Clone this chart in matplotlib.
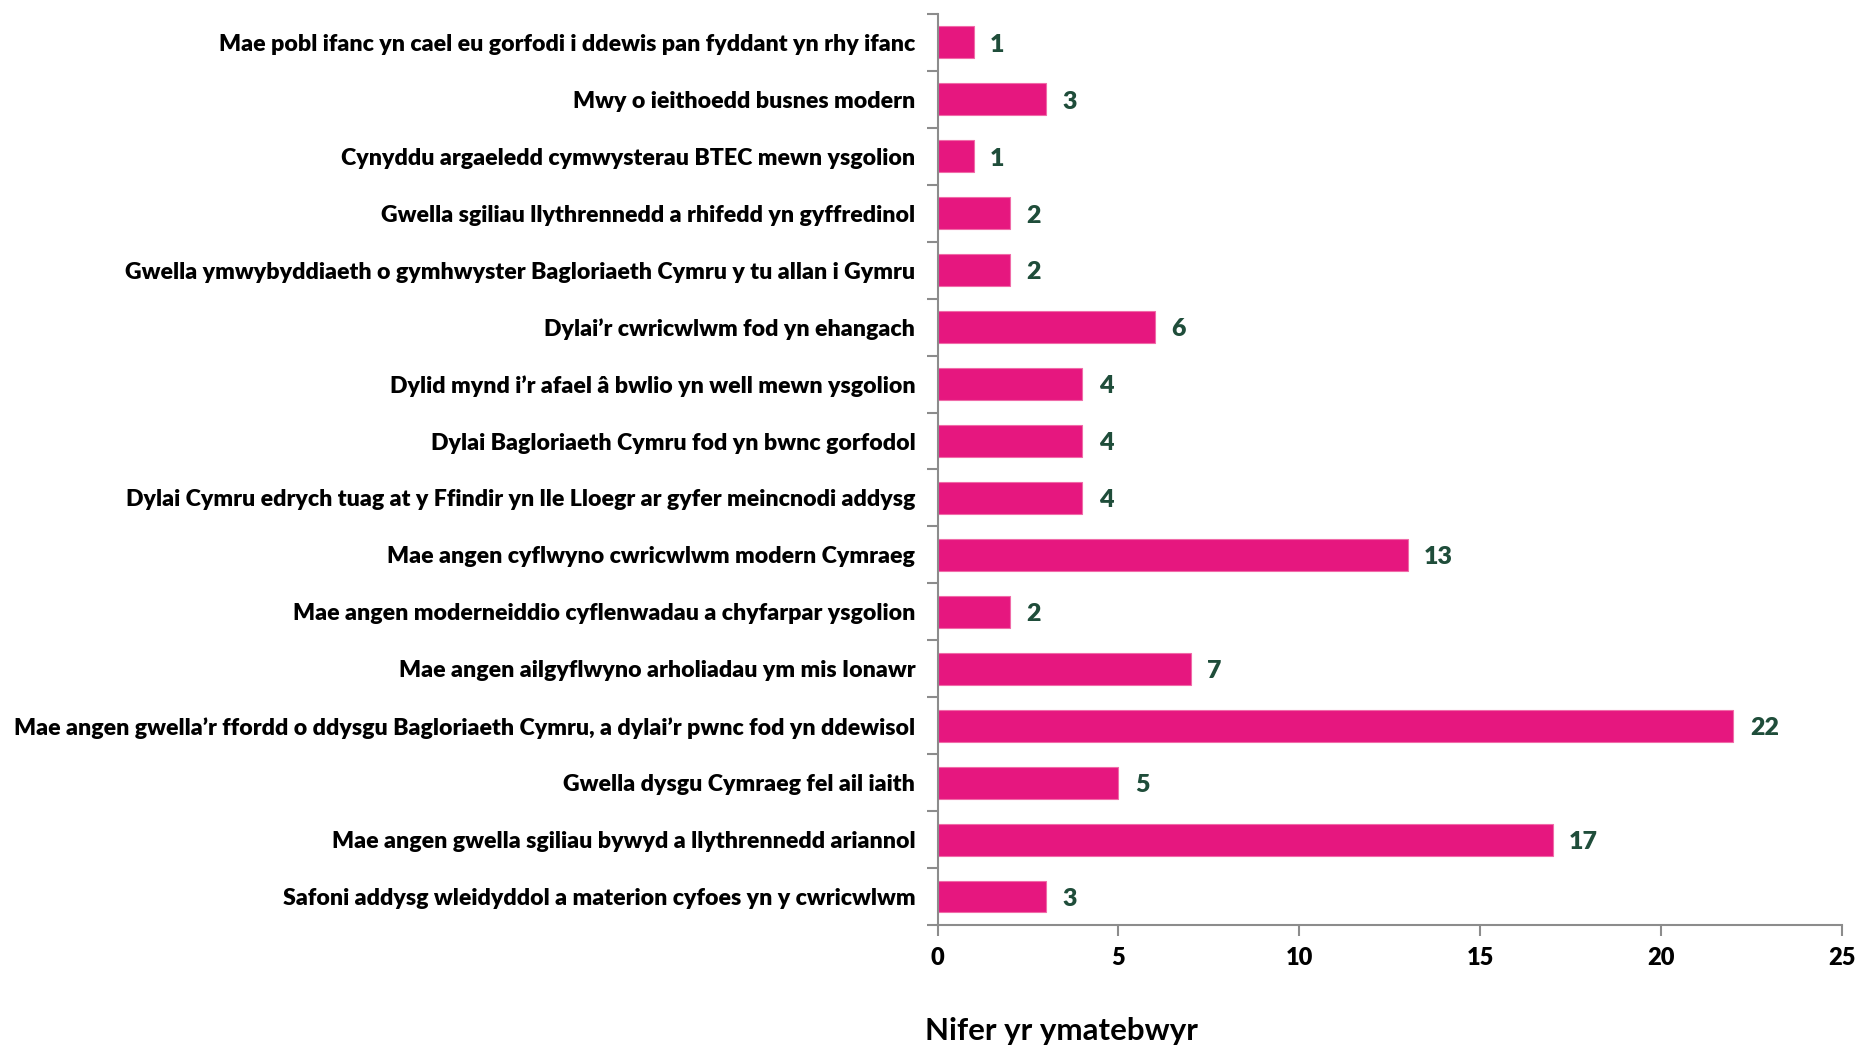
import matplotlib
matplotlib.use("Agg")
import matplotlib.pyplot as plt

categories = [
    "Mae pobl ifanc yn cael eu gorfodi i ddewis pan fyddant yn rhy ifanc",
    "Mwy o ieithoedd busnes modern",
    "Cynyddu argaeledd cymwysterau BTEC mewn ysgolion",
    "Gwella sgiliau llythrennedd a rhifedd yn gyffredinol",
    "Gwella ymwybyddiaeth o gymhwyster Bagloriaeth Cymru y tu allan i Gymru",
    "Dylai\u2019r cwricwlwm fod yn ehangach",
    "Dylid mynd i\u2019r afael \u00e2 bwlio yn well mewn ysgolion",
    "Dylai Bagloriaeth Cymru fod yn bwnc gorfodol",
    "Dylai Cymru edrych tuag at y Ffindir yn lle Lloegr ar gyfer meincnodi addysg",
    "Mae angen cyflwyno cwricwlwm modern Cymraeg",
    "Mae angen moderneiddio cyflenwadau a chyfarpar ysgolion",
    "Mae angen ailgyflwyno arholiadau ym mis Ionawr",
    "Mae angen gwella\u2019r ffordd o ddysgu Bagloriaeth Cymru, a dylai\u2019r pwnc fod yn ddewisol",
    "Gwella dysgu Cymraeg fel ail iaith",
    "Mae angen gwella sgiliau bywyd a llythrennedd ariannol",
    "Safoni addysg wleidyddol a materion cyfoes yn y cwricwlwm",
]
values = [1, 3, 1, 2, 2, 6, 4, 4, 4, 13, 2, 7, 22, 5, 17, 3]
xticks = [0, 5, 10, 15, 20, 25]
xlabel = "Nifer yr ymatebwyr"

plt.rcParams['font.family'] = ['Lato', 'DejaVu Sans']

fig = plt.figure(figsize=(18.61, 10.49), dpi=100)
ax = fig.add_axes([0.5038, 0.1182, 0.9898 - 0.5038, 0.9867 - 0.1182])

n = len(categories)
pos = list(range(n))
bar_color = "#E6177F"
ax.barh(pos, values, height=0.56, color=bar_color, edgecolor="#F06BA8", linewidth=0.8)
for p, v in zip(pos, values):
    ax.text(v + 0.45, p + 0.04, str(v), va="center", ha="left", fontsize=18,
            fontweight="heavy", color="#1F4D3A")

ax.set_ylim(n - 0.5, -0.5)
ax.set_xlim(0, 25)
ax.set_xticks(xticks)
ax.set_xticklabels([str(t) for t in xticks], fontsize=17, fontweight="heavy")
ax.set_yticks(pos)
ax.set_yticklabels(categories, fontsize=16.7, fontweight="heavy")
ax.tick_params(axis="y", length=0, pad=16)
ax.set_yticks([i - 0.5 for i in range(n + 1)], minor=True)
ax.tick_params(axis="y", which="minor", length=8, color="#8C8C8C", width=1.5)
ax.tick_params(axis="x", length=8, color="#8C8C8C", width=1.5, pad=8)

for s in ["top", "right"]:
    ax.spines[s].set_visible(False)
for s in ["left", "bottom"]:
    ax.spines[s].set_color("#8C8C8C")
    ax.spines[s].set_linewidth(1.5)

fig.text(0.5705, 0.017, xlabel, ha="center", va="center", fontsize=22.5,
         fontweight="bold", color="black")

fig.savefig("out.png", dpi=100)
